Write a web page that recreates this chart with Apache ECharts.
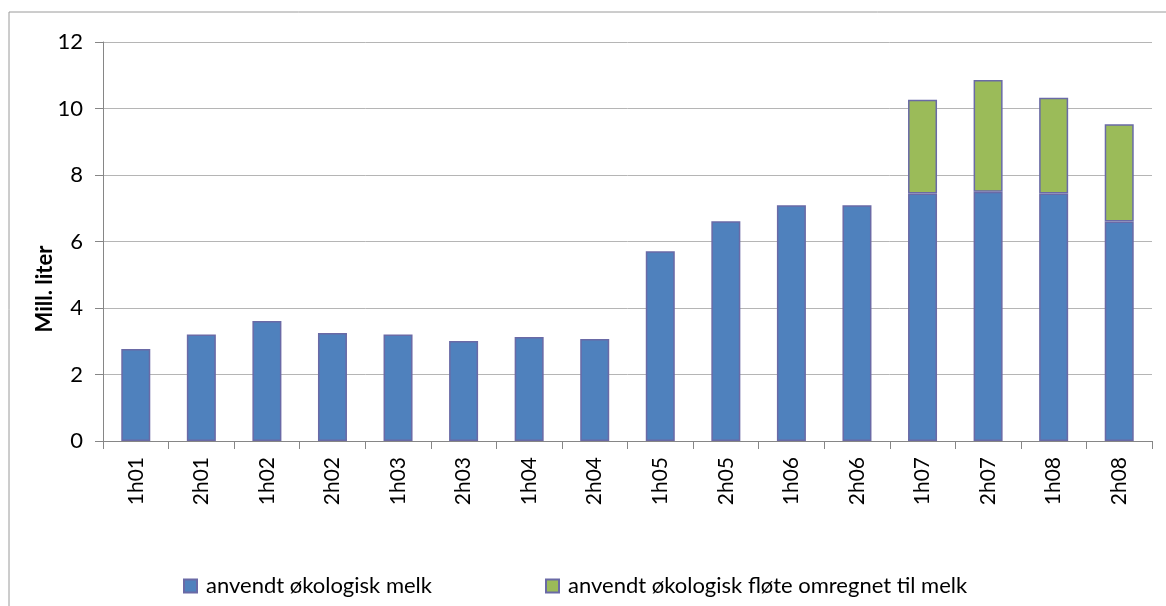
<!DOCTYPE html>
<html>
<head>
<meta charset="utf-8">
<script src="https://cdn.jsdelivr.net/npm/echarts@6/dist/echarts.min.js"></script>
<style>
  html, body { margin: 0; padding: 0; background: #fff; }
  #chart1 { width: 1166px; height: 606px; }
</style>
</head>
<body>
<div id="chart1"></div>
<script>
// halvår
var categories = ['1h01', '2h01', '1h02', '2h02', '1h03', '2h03', '1h04', '2h04',
                  '1h05', '2h05', '1h06', '2h06', '1h07', '2h07', '1h08', '2h08'];
// anvendt økologisk melk (mill. liter)
var melk = [2.77, 3.20, 3.61, 3.25, 3.20, 3.01, 3.13, 3.07,
            5.71, 6.61, 7.09, 7.09, 7.44, 7.50, 7.44, 6.60];
// anvendt økologisk fløte omregnet til melk (mill. liter)
var flote = [null, null, null, null, null, null, null, null,
             null, null, null, null, 2.82, 3.36, 2.88, 2.93];
var yTicks = [0, 2, 4, 6, 8, 10, 12];

var fontName = 'Lato, "Open Sans", sans-serif';
var chart = echarts.init(document.getElementById('chart1'));

var option = {
    backgroundColor: '#fff',
    animation: false,
    textStyle: { fontFamily: fontName, color: '#000' },
    grid: { left: 103, right: 14, top: 42, bottom: 165 },
    legend: [{
        left: 178, top: 570,
        icon: 'rect',
        itemWidth: 13, itemHeight: 13, itemGap: 10,
        textStyle: { fontFamily: fontName, fontSize: 22, color: '#000', padding: [0, 0, 0, 4] },
        data: ['anvendt økologisk melk']
    }, {
        left: 540, top: 570,
        icon: 'rect',
        itemWidth: 13, itemHeight: 13,
        textStyle: { fontFamily: fontName, fontSize: 22, color: '#000', padding: [0, 0, 0, 4] },
        data: ['anvendt økologisk fløte omregnet til melk']
    }],
    xAxis: {
        type: 'category',
        data: categories,
        axisLine: { lineStyle: { color: '#868686', width: 1 } },
        axisTick: { show: true, length: 8, interval: 0, lineStyle: { color: '#868686' } },
        axisLabel: { rotate: 90, interval: 0, margin: 16, fontSize: 21, color: '#000', fontFamily: fontName }
    },
    yAxis: {
        type: 'value',
        min: yTicks[0],
        max: yTicks[yTicks.length - 1],
        interval: 2,
        axisLine: { show: true, lineStyle: { color: '#868686', width: 1 } },
        axisTick: { show: true, length: 8, lineStyle: { color: '#868686' } },
        axisLabel: { margin: 20, fontSize: 22, color: '#000', fontFamily: fontName },
        splitLine: { lineStyle: { color: '#b5b5b5', width: 1 } }
    },
    graphic: [{
        type: 'rect',
        shape: { x: 9, y: 12, width: 1200, height: 700 },
        style: { fill: null, stroke: '#9a9a9a', lineWidth: 1 },
        silent: true, z: -1
    }, {
        type: 'text',
        x: 45, y: 289,
        rotation: Math.PI / 2,
        style: {
            text: 'Mill. liter',
            fontFamily: fontName, fontSize: 22, fontWeight: 'bold', fill: '#000',
            align: 'center', verticalAlign: 'middle'
        }
    }],
    series: [{
        name: 'anvendt økologisk melk',
        type: 'bar',
        stack: 'total',
        barWidth: 29,
        data: melk,
        itemStyle: { color: '#4f81bd', borderColor: '#6a6aa6', borderWidth: 1.5 }
    }, {
        name: 'anvendt økologisk fløte omregnet til melk',
        type: 'bar',
        stack: 'total',
        barWidth: 29,
        data: flote,
        itemStyle: { color: '#9bbb59', borderColor: '#6a6aa6', borderWidth: 1.5 }
    }]
};

chart.setOption(option);
</script>
</body>
</html>
